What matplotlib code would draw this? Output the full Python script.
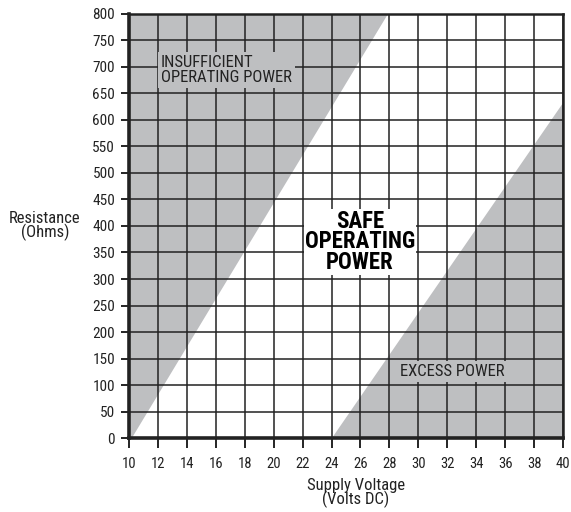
import numpy as np
import matplotlib
matplotlib.use('Agg')
import matplotlib.pyplot as plt

# Supply voltage (V) / loop resistance (ohm) limits
v_min, v_max = 10, 40
r_min, r_max = 0, 800

# lower boundary line: insufficient operating power above it
low_line_v = [10.2, 27.9]
low_line_r = [0, 800]
# upper boundary line: excess power below it
high_line_v = [24.0, 40.0]
high_line_r = [0, 632]

x_ticks = list(range(10, 41, 2))
y_ticks = list(range(0, 801, 50))

GRAY = '#bebfc1'
# condensed faces first, whichever is installed gets used
FONT = ['Roboto Condensed', 'Archivo Narrow', 'PT Sans Narrow',
        'Liberation Sans Narrow', 'Roboto', 'DejaVu Sans']

fig = plt.figure(figsize=(5.71, 5.12), dpi=100)
ax = fig.add_axes([0.2259, 0.1445, 0.986 - 0.2259, 0.9727 - 0.1445])

# shaded regions
ax.fill([v_min, low_line_v[0], low_line_v[1], v_min],
        [r_min, low_line_r[0], low_line_r[1], r_max],
        color=GRAY, lw=0, zorder=0)
ax.fill([high_line_v[0], v_max, v_max],
        [high_line_r[0], r_min, high_line_r[1]],
        color=GRAY, lw=0, zorder=0)

ax.set_xlim(v_min, v_max)
ax.set_ylim(r_min, r_max)
ax.set_xticks(x_ticks)
ax.set_yticks(y_ticks)
ax.grid(True, color='#222222', lw=1.1)
ax.set_axisbelow(False)

for lab in ax.get_xticklabels():
    lab.set_family(FONT)
    lab.set_fontsize(10.5)
    lab.set_color('#222222')
for lab in ax.get_yticklabels():
    lab.set_family(FONT)
    lab.set_fontsize(11)
    lab.set_color('#222222')
ax.tick_params(axis='x', length=7, width=1.2, pad=7)
ax.tick_params(axis='y', length=6, width=1.2, pad=4)

ax.spines['left'].set_linewidth(2.6)
ax.spines['bottom'].set_linewidth(2.6)
ax.spines['top'].set_linewidth(1.8)
ax.spines['right'].set_linewidth(1.8)
for s in ax.spines.values():
    s.set_color('#222222')
    s.set_zorder(5)

ax.text(12.2, 694, 'INSUFFICIENT\nOPERATING POWER', family=FONT, fontsize=12,
        color='#222222', ha='left', va='center', linespacing=1.0, zorder=4,
        bbox=dict(facecolor=GRAY, edgecolor='none', pad=2))
ax.text(25.95, 370, 'SAFE\nOPERATING\nPOWER', family=FONT, fontsize=16.5,
        fontweight='heavy', color='black', ha='center', va='center',
        linespacing=0.88, zorder=4,
        bbox=dict(facecolor='white', edgecolor='none', pad=0.5))
ax.text(28.75, 125, 'EXCESS POWER', family=FONT, fontsize=12,
        color='#222222', ha='left', va='center', zorder=4,
        bbox=dict(facecolor=GRAY, edgecolor='none', pad=2))

fig.text(45 / 571, 1 - 226 / 512, 'Resistance\n(Ohms)', family=FONT, fontsize=12,
         color='#222222', ha='center', va='center', linespacing=0.9)
fig.text(356 / 571, 1 - 493 / 512, 'Supply Voltage\n(Volts DC)', family=FONT,
         fontsize=12, color='#222222', ha='center', va='center', linespacing=0.85)

fig.savefig('out.png', dpi=100)
